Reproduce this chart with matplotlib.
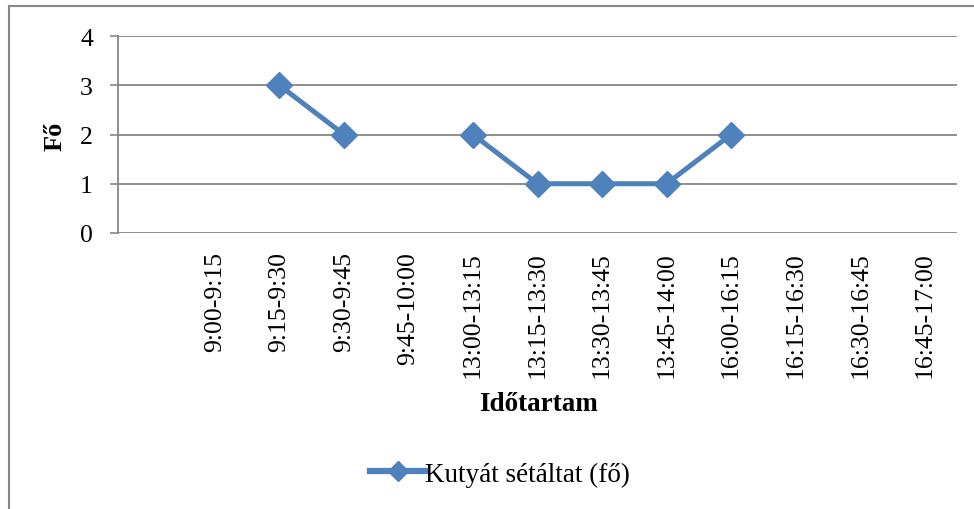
import numpy as np
import matplotlib
matplotlib.use("Agg")
import matplotlib.pyplot as plt
from matplotlib.patches import Rectangle

# time slots (the first slot is a blank row in the source table)
slots = ["", "9:00-9:15", "9:15-9:30", "9:30-9:45", "9:45-10:00",
         "13:00-13:15", "13:15-13:30", "13:30-13:45", "13:45-14:00",
         "16:00-16:15", "16:15-16:30", "16:30-16:45", "16:45-17:00"]
walkers = [None, None, 3, 2, None, 2, 1, 1, 1, 2, None, None, None]
series_name = "Kutyát sétáltat (fő)"
y_ticks = [0, 1, 2, 3, 4]

plt.rcParams["font.family"] = ["Liberation Serif", "DejaVu Serif"]
BLUE = "#4F81BD"
GRID = "#868686"

fig = plt.figure(figsize=(9.74, 5.10), dpi=100)
ax = fig.add_axes([118 / 974, (510 - 234) / 510, (957 - 118) / 974, (234 - 37) / 510])

x = np.arange(len(slots))
y = np.array([np.nan if v is None else v for v in walkers], dtype=float)
ax.plot(x, y, color=BLUE, lw=3.6, marker="D", ms=13, mfc=BLUE, mec=BLUE,
        label=series_name, solid_joinstyle="miter")

ax.set_xlim(-0.5, len(slots) - 0.5)
ax.set_ylim(0, 4)
ax.set_yticks(y_ticks)
ax.set_xticks(x)
ax.set_xticklabels(slots, rotation=90, fontsize=18.5)
ax.tick_params(axis="x", length=0, pad=13)
ax.tick_params(axis="y", length=6, width=1.2, color=GRID, pad=12, labelsize=18.5)
ax.yaxis.grid(True, color=GRID, lw=1.3)
ax.set_axisbelow(True)
for s in ("top", "right", "bottom"):
    ax.spines[s].set_visible(False)
ax.spines["left"].set_color(GRID)
ax.spines["left"].set_linewidth(1.3)

fig.text(55 / 974, 1 - 136 / 510, "Fő", rotation=90, ha="center", va="center",
         fontsize=19, fontweight="bold")
fig.text(539 / 974, 1 - 405 / 510, "Időtartam", ha="center", va="center",
         fontsize=19.5, fontweight="bold")

leg = fig.legend(loc="center", bbox_to_anchor=(500 / 974, 1 - 475 / 510), frameon=False,
                 fontsize=19.5, handlelength=2.0, handletextpad=0.0, borderpad=0,
                 markerscale=0.75)
leg.get_lines()[0].set_linewidth(4.5)

# chart-area border
fig.patches.append(Rectangle((9 / 974, -0.1), 1.2, 1 - 7 / 510 + 0.1,
                             transform=fig.transFigure, fill=False,
                             ec=GRID, lw=1.5))

fig.savefig("out.png", dpi=100)
